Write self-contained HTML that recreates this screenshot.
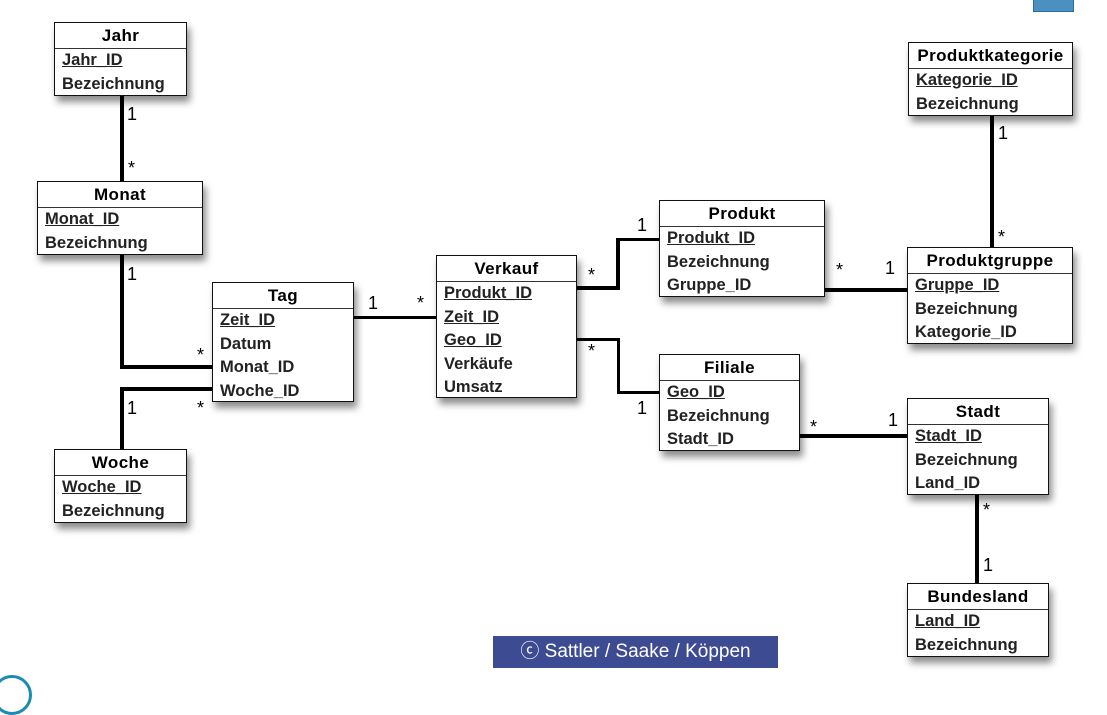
<!DOCTYPE html>
<html><head><meta charset="utf-8"><style>
body{margin:0;width:1107px;height:682px;background:#fff;position:relative;overflow:hidden;font-family:"Liberation Sans",sans-serif;}
.b{position:absolute;border:1.5px solid #111;background:#fff;box-shadow:3px 6px 7px rgba(0,0,0,.45);box-sizing:border-box;}
.t{height:25px;border-bottom:1.5px solid #333;text-align:center;font-weight:bold;font-size:17px;line-height:25px;letter-spacing:0.4px;}
.r{padding-left:7px;font-size:16.5px;font-weight:bold;line-height:23.5px;color:#222;white-space:nowrap;}
.u{text-decoration:underline;}
.l{position:absolute;background:#000;}
.m{position:absolute;font-size:18px;}
</style></head><body>
<!-- lines -->
<div class="l" style="left:120px;top:96px;width:4px;height:86px"></div>
<div class="l" style="left:120px;top:255px;width:4px;height:114px"></div>
<div class="l" style="left:120px;top:365px;width:92px;height:4px"></div>
<div class="l" style="left:120px;top:387px;width:4px;height:63px"></div>
<div class="l" style="left:120px;top:387px;width:92px;height:4px"></div>
<div class="l" style="left:354px;top:316px;width:82px;height:3px"></div>
<div class="l" style="left:577px;top:286px;width:42px;height:4px"></div>
<div class="l" style="left:616px;top:238px;width:4px;height:52px"></div>
<div class="l" style="left:616px;top:238px;width:43px;height:3px"></div>
<div class="l" style="left:577px;top:338px;width:42px;height:3px"></div>
<div class="l" style="left:617px;top:338px;width:3px;height:56px"></div>
<div class="l" style="left:617px;top:391px;width:42px;height:3px"></div>
<div class="l" style="left:825px;top:288px;width:83px;height:4px"></div>
<div class="l" style="left:990px;top:116px;width:4px;height:132px"></div>
<div class="l" style="left:800px;top:434px;width:108px;height:4px"></div>
<div class="l" style="left:975px;top:495px;width:4px;height:89px"></div>
<!-- multiplicities -->
<div class="m" style="left:127px;top:104px">1</div>
<div class="m" style="left:128px;top:158px">*</div>
<div class="m" style="left:127px;top:264px">1</div>
<div class="m" style="left:197px;top:345px">*</div>
<div class="m" style="left:127px;top:398px">1</div>
<div class="m" style="left:197px;top:398px">*</div>
<div class="m" style="left:368px;top:293px">1</div>
<div class="m" style="left:417px;top:293px">*</div>
<div class="m" style="left:588px;top:265px">*</div>
<div class="m" style="left:637px;top:215px">1</div>
<div class="m" style="left:588px;top:341px">*</div>
<div class="m" style="left:637px;top:398px">1</div>
<div class="m" style="left:836px;top:260px">*</div>
<div class="m" style="left:885px;top:258px">1</div>
<div class="m" style="left:998px;top:123px">1</div>
<div class="m" style="left:998px;top:227px">*</div>
<div class="m" style="left:810px;top:417px">*</div>
<div class="m" style="left:888px;top:410px">1</div>
<div class="m" style="left:983px;top:500px">*</div>
<div class="m" style="left:983px;top:555px">1</div>
<!-- boxes -->
<div class="b" style="left:54px;top:22px;width:133px;height:74px"><div class="t">Jahr</div><div class="r u">Jahr_ID</div><div class="r">Bezeichnung</div></div>
<div class="b" style="left:37px;top:181px;width:166px;height:74px"><div class="t">Monat</div><div class="r u">Monat_ID</div><div class="r">Bezeichnung</div></div>
<div class="b" style="left:212px;top:282px;width:142px;height:120px"><div class="t">Tag</div><div class="r u">Zeit_ID</div><div class="r">Datum</div><div class="r">Monat_ID</div><div class="r">Woche_ID</div></div>
<div class="b" style="left:54px;top:449px;width:133px;height:74px"><div class="t">Woche</div><div class="r u">Woche_ID</div><div class="r">Bezeichnung</div></div>
<div class="b" style="left:436px;top:255px;width:141px;height:143px"><div class="t">Verkauf</div><div class="r u">Produkt_ID</div><div class="r u">Zeit_ID</div><div class="r u">Geo_ID</div><div class="r">Verkäufe</div><div class="r">Umsatz</div></div>
<div class="b" style="left:659px;top:200px;width:166px;height:97px"><div class="t">Produkt</div><div class="r u">Produkt_ID</div><div class="r">Bezeichnung</div><div class="r">Gruppe_ID</div></div>
<div class="b" style="left:659px;top:354px;width:141px;height:97px"><div class="t">Filiale</div><div class="r u">Geo_ID</div><div class="r">Bezeichnung</div><div class="r">Stadt_ID</div></div>
<div class="b" style="left:908px;top:42px;width:165px;height:74px"><div class="t">Produktkategorie</div><div class="r u">Kategorie_ID</div><div class="r">Bezeichnung</div></div>
<div class="b" style="left:907px;top:247px;width:166px;height:97px"><div class="t">Produktgruppe</div><div class="r u">Gruppe_ID</div><div class="r">Bezeichnung</div><div class="r">Kategorie_ID</div></div>
<div class="b" style="left:907px;top:398px;width:142px;height:97px"><div class="t">Stadt</div><div class="r u">Stadt_ID</div><div class="r">Bezeichnung</div><div class="r">Land_ID</div></div>
<div class="b" style="left:907px;top:583px;width:142px;height:74px"><div class="t">Bundesland</div><div class="r u">Land_ID</div><div class="r">Bezeichnung</div></div>
<!-- misc -->
<div style="position:absolute;left:1033px;top:0;width:41px;height:12px;background:#4a90c0;border:1px solid #2c6d99;border-top:none;box-sizing:border-box"></div>
<div style="position:absolute;left:493px;top:636px;width:285px;height:32px;background:#3d4b93;color:#fff;font-size:19px;line-height:32px;text-align:center">ⓒ Sattler / Saake / Köppen</div>
<div style="position:absolute;left:-8px;top:675px;width:34px;height:34px;border:3px solid #1a8bb5;border-radius:50%"></div>
</body></html>
